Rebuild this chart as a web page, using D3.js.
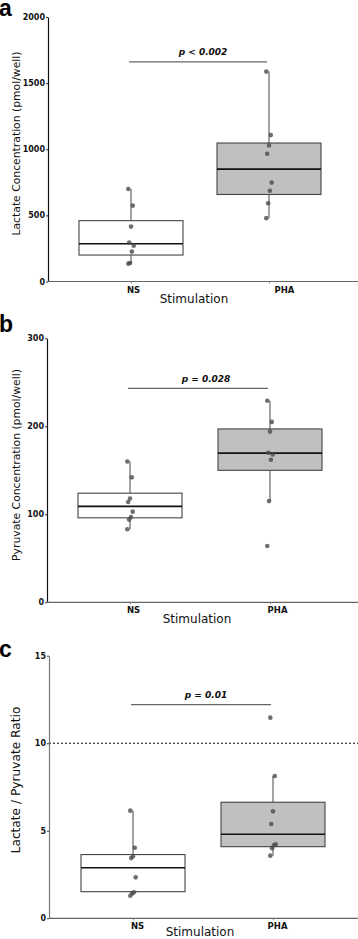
<!DOCTYPE html>
<html>
<head>
<meta charset="utf-8">
<script src="https://cdn.jsdelivr.net/npm/d3@7"></script>
<style>
  body { margin: 0; background: #fff; }
  svg { display: block; }
</style>
</head>
<body>
<svg id="chart"></svg>
<script>
// groups on the x axis
const groups = ['NS', 'PHA'];

// a: lactate (pmol/well)
const lactateNS = [700, 574, 415, 294, 271, 226, 140, 135];
const lactatePHA = [1587, 1107, 1029, 966, 748, 686, 592, 479];
// box stats: [low whisker, q1, median, q3, high whisker]
const lactateBoxNS = [135, 200, 286, 460, 700];
const lactateBoxPHA = [479, 658, 850, 1047, 1587];
const lactateTicks = [0, 500, 1000, 1500, 2000];

// b: pyruvate (pmol/well)
const pyruvateNS = [160, 142, 118, 114, 103, 97, 94, 83];
const pyruvatePHA = [229, 205, 194, 170, 168, 162, 115, 64];
const pyruvateBoxNS = [83, 96, 109, 124, 160];
const pyruvateBoxPHA = [115, 150, 169.5, 197, 229];
const pyruvateTicks = [0, 100, 200, 300];

// c: lactate / pyruvate ratio
const ratioNS = [6.15, 4.03, 3.54, 3.44, 2.34, 1.49, 1.43, 1.29];
const ratioPHA = [11.46, 8.13, 6.11, 5.39, 4.23, 4.17, 4.0, 3.58];
const ratioBoxNS = [1.29, 1.52, 2.89, 3.64, 6.15];
const ratioBoxPHA = [3.58, 4.09, 4.8, 6.63, 8.13];
const ratioTicks = [0, 5, 10, 15];
const ratioRef = 10;

const pLabels = ['p < 0.002', 'p = 0.028', 'p = 0.01'];
const yTitles = ['Lactate Concentration (pmol/well)', 'Pyruvate Concentration (pmol/well)', 'Lactate / Pyruvate Ratio'];
const panelLetters = ['a', 'b', 'c'];

const W = 358, H = 939;
const svg = d3.select('#chart').attr('width', W).attr('height', H);

const panels = [
    { letter: panelLetters[0], letterY: 16, ax: 48, yTop: 17, y0: 281.5, xr: [131, 269],
      ticks: lactateTicks, pts: [lactateNS, lactatePHA], box: [lactateBoxNS, lactateBoxPHA],
      sig: 1660, pText: pLabels[0], pdx: 5, title: yTitles[0], titleY: 143.5, titleSize: 10.8,
      tickDx: [2, 15], xTitleX: 194, xTitleY: 303, yAxisColor: '#111' },
    { letter: panelLetters[1], letterY: 332, ax: 47, yTop: 338.3, y0: 602.3, xr: [130, 270],
      ticks: pyruvateTicks, pts: [pyruvateNS, pyruvatePHA], box: [pyruvateBoxNS, pyruvateBoxPHA],
      sig: 243, pText: pLabels[1], pdx: 8, title: yTitles[1], titleY: 465, titleSize: 10.8,
      tickDx: [3, 7], xTitleX: 197, xTitleY: 623, yAxisColor: '#111' },
    { letter: panelLetters[2], letterY: 657, ax: 49, yTop: 655.7, y0: 918.3, xr: [133, 273],
      ticks: ratioTicks, pts: [ratioNS, ratioPHA], box: [ratioBoxNS, ratioBoxPHA],
      sig: 12.2, pText: pLabels[2], pdx: 5, title: yTitles[2], titleY: 780, titleSize: 12.2,
      tickDx: [4, 4], xTitleX: 200, xTitleY: 936, yAxisColor: '#777', ref: ratioRef }
];

const boxW = 104;

panels.forEach(p => {
    const g = svg.append('g');
    const ymax = d3.max(p.ticks);
    const y = d3.scaleLinear().domain([0, ymax]).range([p.y0, p.yTop]);
    const x = d3.scalePoint().domain(groups).range(p.xr);

    // reference line
    if (p.ref !== undefined) {
        g.append('line')
            .attr('x1', p.ax).attr('x2', W)
            .attr('y1', y(p.ref)).attr('y2', y(p.ref))
            .attr('stroke', '#000').attr('stroke-width', 1)
            .attr('stroke-dasharray', '2,2');
    }

    // y axis
    const yaxis = g.append('g')
        .attr('transform', `translate(${p.ax},0)`)
        .call(d3.axisLeft(y).tickValues(p.ticks).tickFormat(d3.format('d'))
            .tickSize(2).tickSizeOuter(0).tickPadding(1));
    yaxis.select('.domain').attr('stroke', p.yAxisColor).attr('stroke-width', 1.2);
    yaxis.selectAll('.tick line').attr('stroke', '#333');
    yaxis.selectAll('.tick text')
        .attr('font-family', 'DejaVu Sans').attr('font-size', 8).attr('font-weight', 'bold').attr('fill', '#111');

    // x axis
    g.append('line')
        .attr('x1', p.ax).attr('x2', W)
        .attr('y1', p.y0).attr('y2', p.y0)
        .attr('stroke', '#666').attr('stroke-width', 1.2);
    const xaxis = g.append('g')
        .attr('transform', `translate(0,${p.y0})`)
        .call(d3.axisBottom(x).tickSize(2).tickSizeOuter(0).tickPadding(3));
    xaxis.select('.domain').remove();
    xaxis.selectAll('.tick line').attr('stroke', '#888');
    xaxis.selectAll('.tick text')
        .attr('dx', (d, i) => p.tickDx[i])
        .attr('font-family', 'DejaVu Sans').attr('font-size', 8.5).attr('font-weight', 'bold').attr('fill', '#111');

    // whiskers + boxes
    groups.forEach((grp, i) => {
        const b = p.box[i];
        const cx = x(grp);
        g.append('line').attr('x1', cx).attr('x2', cx)
            .attr('y1', y(b[4])).attr('y2', y(b[3]))
            .attr('stroke', '#666').attr('stroke-width', 1.2);
        g.append('line').attr('x1', cx).attr('x2', cx)
            .attr('y1', y(b[1])).attr('y2', y(b[0]))
            .attr('stroke', '#666').attr('stroke-width', 1.2);
        g.append('rect')
            .attr('x', cx - boxW / 2).attr('width', boxW)
            .attr('y', y(b[3])).attr('height', y(b[1]) - y(b[3]))
            .attr('fill', i === 0 ? '#fff' : '#c0c0c0')
            .attr('stroke', '#444').attr('stroke-width', 1.1);
        g.append('line')
            .attr('x1', cx - boxW / 2).attr('x2', cx + boxW / 2)
            .attr('y1', y(b[2])).attr('y2', y(b[2]))
            .attr('stroke', '#111').attr('stroke-width', 1.6);
    });

    // points
    groups.forEach((grp, i) => {
        g.selectAll(null)
            .data(p.pts[i])
            .enter()
            .append('circle')
            .attr('cx', (d, j) => x(grp) + ((j * 5) % 7 - 3) * 0.9)
            .attr('cy', d => y(d))
            .attr('r', 2.3)
            .attr('fill', '#4a4a4a')
            .attr('fill-opacity', 0.8);
    });

    // significance bar
    const x1 = x(groups[0]) - 2, x2 = x(groups[1]) - 2;
    g.append('line')
        .attr('x1', x1).attr('x2', x2)
        .attr('y1', y(p.sig)).attr('y2', y(p.sig))
        .attr('stroke', '#666').attr('stroke-width', 1.2);
    g.append('text')
        .attr('x', (x1 + x2) / 2 + p.pdx)
        .attr('y', y(p.sig) - 6.5)
        .attr('text-anchor', 'middle')
        .attr('font-family', 'DejaVu Sans').attr('font-size', 9)
        .attr('font-weight', 'bold').attr('font-style', 'italic')
        .attr('fill', '#111')
        .text(p.pText);

    // axis titles
    g.append('text')
        .attr('transform', 'rotate(-90)')
        .attr('x', -p.titleY).attr('y', 20)
        .attr('text-anchor', 'middle')
        .attr('font-family', 'DejaVu Sans').attr('font-size', p.titleSize)
        .attr('fill', '#111')
        .text(p.title);
    g.append('text')
        .attr('x', p.xTitleX).attr('y', p.xTitleY)
        .attr('text-anchor', 'middle')
        .attr('font-family', 'DejaVu Sans').attr('font-size', 12)
        .attr('fill', '#111')
        .text('Stimulation');

    // panel letter
    g.append('text')
        .attr('x', -1).attr('y', p.letterY)
        .attr('font-family', 'Liberation Sans').attr('font-size', 23)
        .attr('font-weight', 'bold').attr('fill', '#000')
        .text(p.letter);
});
</script>
</body>
</html>
